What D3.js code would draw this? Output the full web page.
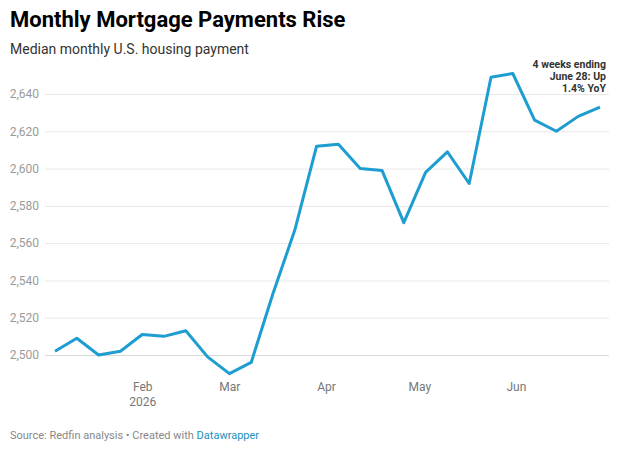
<!doctype html>
<html>
  <head>
    <script src="https://cdnjs.cloudflare.com/ajax/libs/d3/7.8.5/d3.min.js" type="text/JavaScript"></script>
    <style>
      body { margin: 0; background: #fff; }
      svg { display: block; font-family: Roboto, "Noto Sans", sans-serif; }
    </style>
  </head>
  <body>
    <svg width="617" height="449"></svg>

    <script>
        // weekly data, 4 weeks ending on each date
        var weekEnding = ["2026-01-04","2026-01-11","2026-01-18","2026-01-25","2026-02-01","2026-02-08",
            "2026-02-15","2026-02-22","2026-03-01","2026-03-08","2026-03-15","2026-03-22","2026-03-29",
            "2026-04-05","2026-04-12","2026-04-19","2026-04-26","2026-05-03","2026-05-10","2026-05-17",
            "2026-05-24","2026-05-31","2026-06-07","2026-06-14","2026-06-21","2026-06-28"];
        var payment = [2502, 2509, 2500, 2502, 2511, 2510, 2513, 2499, 2490, 2496, 2533, 2567, 2612,
            2613, 2600, 2599, 2571, 2598, 2609, 2592, 2649, 2651, 2626, 2620, 2628, 2633];
        var yTicks = [2500, 2520, 2540, 2560, 2580, 2600, 2620, 2640];
        var xTicks = ["2026-02-01", "2026-03-01", "2026-04-01", "2026-05-01", "2026-06-01"];
        var xTickLabels = ["Feb", "Mar", "Apr", "May", "Jun"];
        var annotation = ["4 weeks ending", "June 28: Up", "1.4% YoY"];

        var parse = d3.timeParse("%Y-%m-%d");
        var data = weekEnding.map((d, i) => ({date: parse(d), value: payment[i]}));

        var svg = d3.select("svg");

        var x = d3.scaleTime()
            .domain(d3.extent(data, d => d.date))
            .range([55, 600]);

        var y = d3.scaleLinear()
            .domain([2500, 2640])
            .range([355, 94]);

        // title + subtitle
        svg.append("text")
            .attr("x", 10).attr("y", 27)
            .style("font-size", "22px").style("font-weight", "700").style("fill", "#000")
            .text("Monthly Mortgage Payments Rise");

        svg.append("text")
            .attr("x", 10).attr("y", 54)
            .style("font-size", "14px").style("fill", "#333")
            .text("Median monthly U.S. housing payment");

        // y axis with gridlines
        var yAxis = svg.append("g")
            .attr("transform", "translate(45,0)")
            .call(d3.axisLeft(y)
                .tickValues(yTicks)
                .tickSize(-564)
                .tickPadding(6)
                .tickFormat(d3.format(",")));

        yAxis.select(".domain").remove();
        yAxis.selectAll(".tick line")
            .style("stroke", d => d == 2500 ? "#d9d9d9" : "#e8e8e8");
        yAxis.selectAll(".tick text")
            .attr("x", -6)
            .style("font-size", "12px")
            .style("font-family", "Roboto, sans-serif")
            .style("fill", "#9a9a9a");

        // x axis, month labels only
        var xAxis = svg.append("g")
            .attr("transform", "translate(0,376)")
            .call(d3.axisBottom(x)
                .tickValues(xTicks.map(parse))
                .tickSize(0)
                .tickPadding(0)
                .tickFormat((d, i) => xTickLabels[i]));

        xAxis.select(".domain").remove();
        xAxis.selectAll(".tick text")
            .attr("dy", "0")
            .attr("y", 15)
            .style("font-size", "12px")
            .style("font-family", "Roboto, sans-serif")
            .style("fill", "#777");

        xAxis.selectAll(".tick")
            .filter((d, i) => i == 0)
            .append("text")
                .attr("y", 30)
                .attr("text-anchor", "middle")
                .style("font-size", "12px")
                .style("font-family", "Roboto, sans-serif")
                .style("fill", "#777")
                .text("2026");

        // the line
        var line = d3.line()
            .x(d => x(d.date))
            .y(d => y(d.value));

        svg.append("path")
            .datum(data)
            .attr("d", line)
            .style("fill", "none")
            .style("stroke", "#1e9dd0")
            .style("stroke-width", 3)
            .style("stroke-linejoin", "round");

        // annotation
        svg.append("g")
            .selectAll("text")
            .data(annotation)
            .enter()
            .append("text")
                .attr("x", 606)
                .attr("y", (d, i) => 67.5 + i * 12)
                .attr("text-anchor", "end")
                .style("font-size", "10.5px")
                .style("font-weight", "700")
                .style("fill", "#333")
                .text(d => d);

        // footer
        var foot = svg.append("text")
            .attr("x", 10).attr("y", 439)
            .style("font-size", "11px")
            .style("fill", "#888");
        foot.append("tspan").text("Source: Redfin analysis \u2022 Created with ");
        foot.append("tspan").style("fill", "#1d90bb").text("Datawrapper");
    </script>
  </body>
</html>
